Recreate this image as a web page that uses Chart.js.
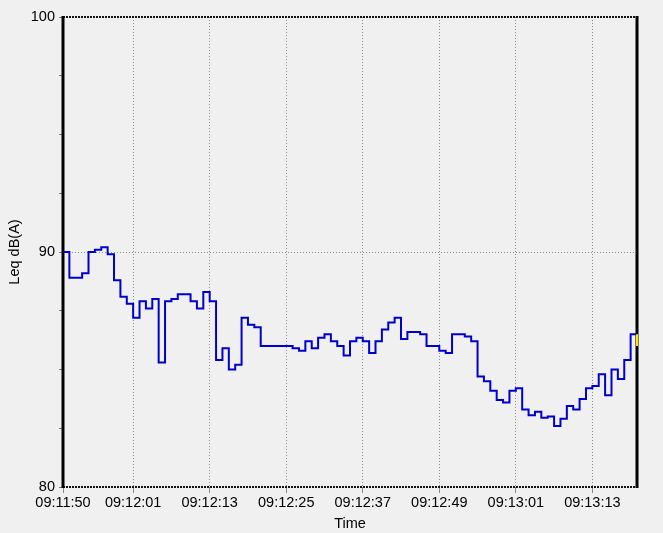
<!DOCTYPE html>
<html><head><meta charset="utf-8">
<script src="https://cdn.jsdelivr.net/npm/chart.js@4.4.0/dist/chart.umd.min.js"></script>
<style>html,body{margin:0;padding:0;background:#f0f0f0;} canvas{display:block;}</style>
</head><body>
<canvas id="c" width="663" height="533"></canvas>
<script>
// Leq dB(A), one value per second starting 09:11:50
const leq = [
  90.0, 88.9, 88.9, 89.1, 90.0, 90.1, 90.2, 89.9, 88.8, 88.1,
  87.8, 87.2, 87.9, 87.6, 88.0, 85.3, 87.9, 88.0, 88.2, 88.2,
  87.9, 87.6, 88.3, 87.9, 85.4, 85.9, 85.0, 85.2, 87.2, 86.9,
  86.8, 86.0, 86.0, 86.0, 86.0, 86.0, 85.9, 85.8, 86.2, 85.9,
  86.35, 86.5, 86.2, 86.0, 85.6, 86.2, 86.35, 86.2, 85.7, 86.2,
  86.7, 87.0, 87.2, 86.3, 86.6, 86.6, 86.5, 86.0, 86.0, 85.8,
  85.7, 86.5, 86.5, 86.4, 86.2, 84.7, 84.5, 84.1, 83.7, 83.6,
  84.1, 84.2, 83.3, 83.05, 83.2, 82.95, 83.0, 82.6, 82.9, 83.45,
  83.3, 83.75, 84.2, 84.3, 84.8, 83.9, 85.0, 84.6, 85.4, 86.5
];
const totalSeconds = 90;
const xTickSeconds = [0, 11, 23, 35, 47, 59, 71, 83];
const xTickLabels = ['09:11:50', '09:12:01', '09:12:13', '09:12:25', '09:12:37', '09:12:49', '09:13:01', '09:13:13'];
const yTickValues = [80, 90, 100];
const cursorValues = [86.5, 86.0];

const linePoints = leq.map((v, i) => ({x: i, y: v}));
linePoints.push({x: totalSeconds, y: leq[leq.length - 1]});
const cursorPoints = cursorValues.map(v => ({x: totalSeconds, y: v}));

const FONT = {family: "'Liberation Sans', Arial, sans-serif", size: 14.5};
Chart.defaults.font.family = FONT.family;

const framePlugin = {
  id: 'frame',
  beforeDatasetsDraw(chart) {
    const {ctx, chartArea: {left, right, top, bottom}} = chart;
    ctx.save();
    ctx.strokeStyle = '#111';
    ctx.lineWidth = 2;
    ctx.setLineDash([2, 1]);
    ctx.beginPath();
    ctx.moveTo(left, top); ctx.lineTo(right, top);
    ctx.moveTo(left, bottom); ctx.lineTo(right, bottom);
    ctx.stroke();
    ctx.setLineDash([]);
    ctx.lineWidth = 3;
    ctx.strokeStyle = '#000';
    ctx.beginPath();
    ctx.moveTo(left, top - 1); ctx.lineTo(left, bottom + 1);
    ctx.moveTo(right, top - 1); ctx.lineTo(right, bottom + 1);
    ctx.stroke();
    ctx.restore();
  }
};

new Chart(document.getElementById('c'), {
  type: 'line',
  data: {
    datasets: [
      {data: linePoints, stepped: true, borderColor: '#0000cc', borderWidth: 2, pointRadius: 0, fill: false, order: 2},
      {data: cursorPoints, borderColor: '#ffe600', borderWidth: 2, pointRadius: 0, clip: 4, order: 1}
    ]
  },
  options: {
    responsive: false,
    animation: false,
    events: [],
    layout: {padding: {left: 0, top: 17, right: 26, bottom: 0}},
    plugins: {legend: {display: false}, tooltip: {enabled: false}},
    scales: {
      x: {
        type: 'linear', min: 0, max: totalSeconds,
        afterBuildTicks(s) { s.ticks = xTickSeconds.map(v => ({value: v})); },
        afterFit(s) { s.height = 46; },
        ticks: {autoSkip: false, maxRotation: 0, padding: 1, color: '#000', font: FONT,
          callback: (v, i) => xTickLabels[i]},
        grid: {color: '#8a8a8a', lineWidth: 1, drawTicks: true, tickLength: 6, tickColor: '#8a8a8a'},
        border: {display: false, dash: [1, 2]},
        title: {display: true, text: 'Time', color: '#000', font: FONT, padding: {top: 0, bottom: 0}}
      },
      y: {
        type: 'linear', min: 80, max: 100,
        afterFit(s) { s.width = 63; },
        ticks: {stepSize: 2.5, autoSkip: false, padding: 4, color: '#000', font: FONT,
          callback: v => yTickValues.includes(v) ? String(v) : ''},
        grid: {
          color: ctx => (ctx.tick && ctx.tick.value === 90) ? '#8a8a8a' : 'rgba(0,0,0,0)',
          lineWidth: 1, drawTicks: true, tickLength: 4, tickColor: '#777'
        },
        border: {display: false, dash: [1, 2]},
        title: {display: true, text: 'Leq dB(A)', color: '#000', font: FONT, padding: {top: 6, bottom: 0}}
      }
    }
  },
  plugins: [framePlugin]
});
</script>
</body></html>
